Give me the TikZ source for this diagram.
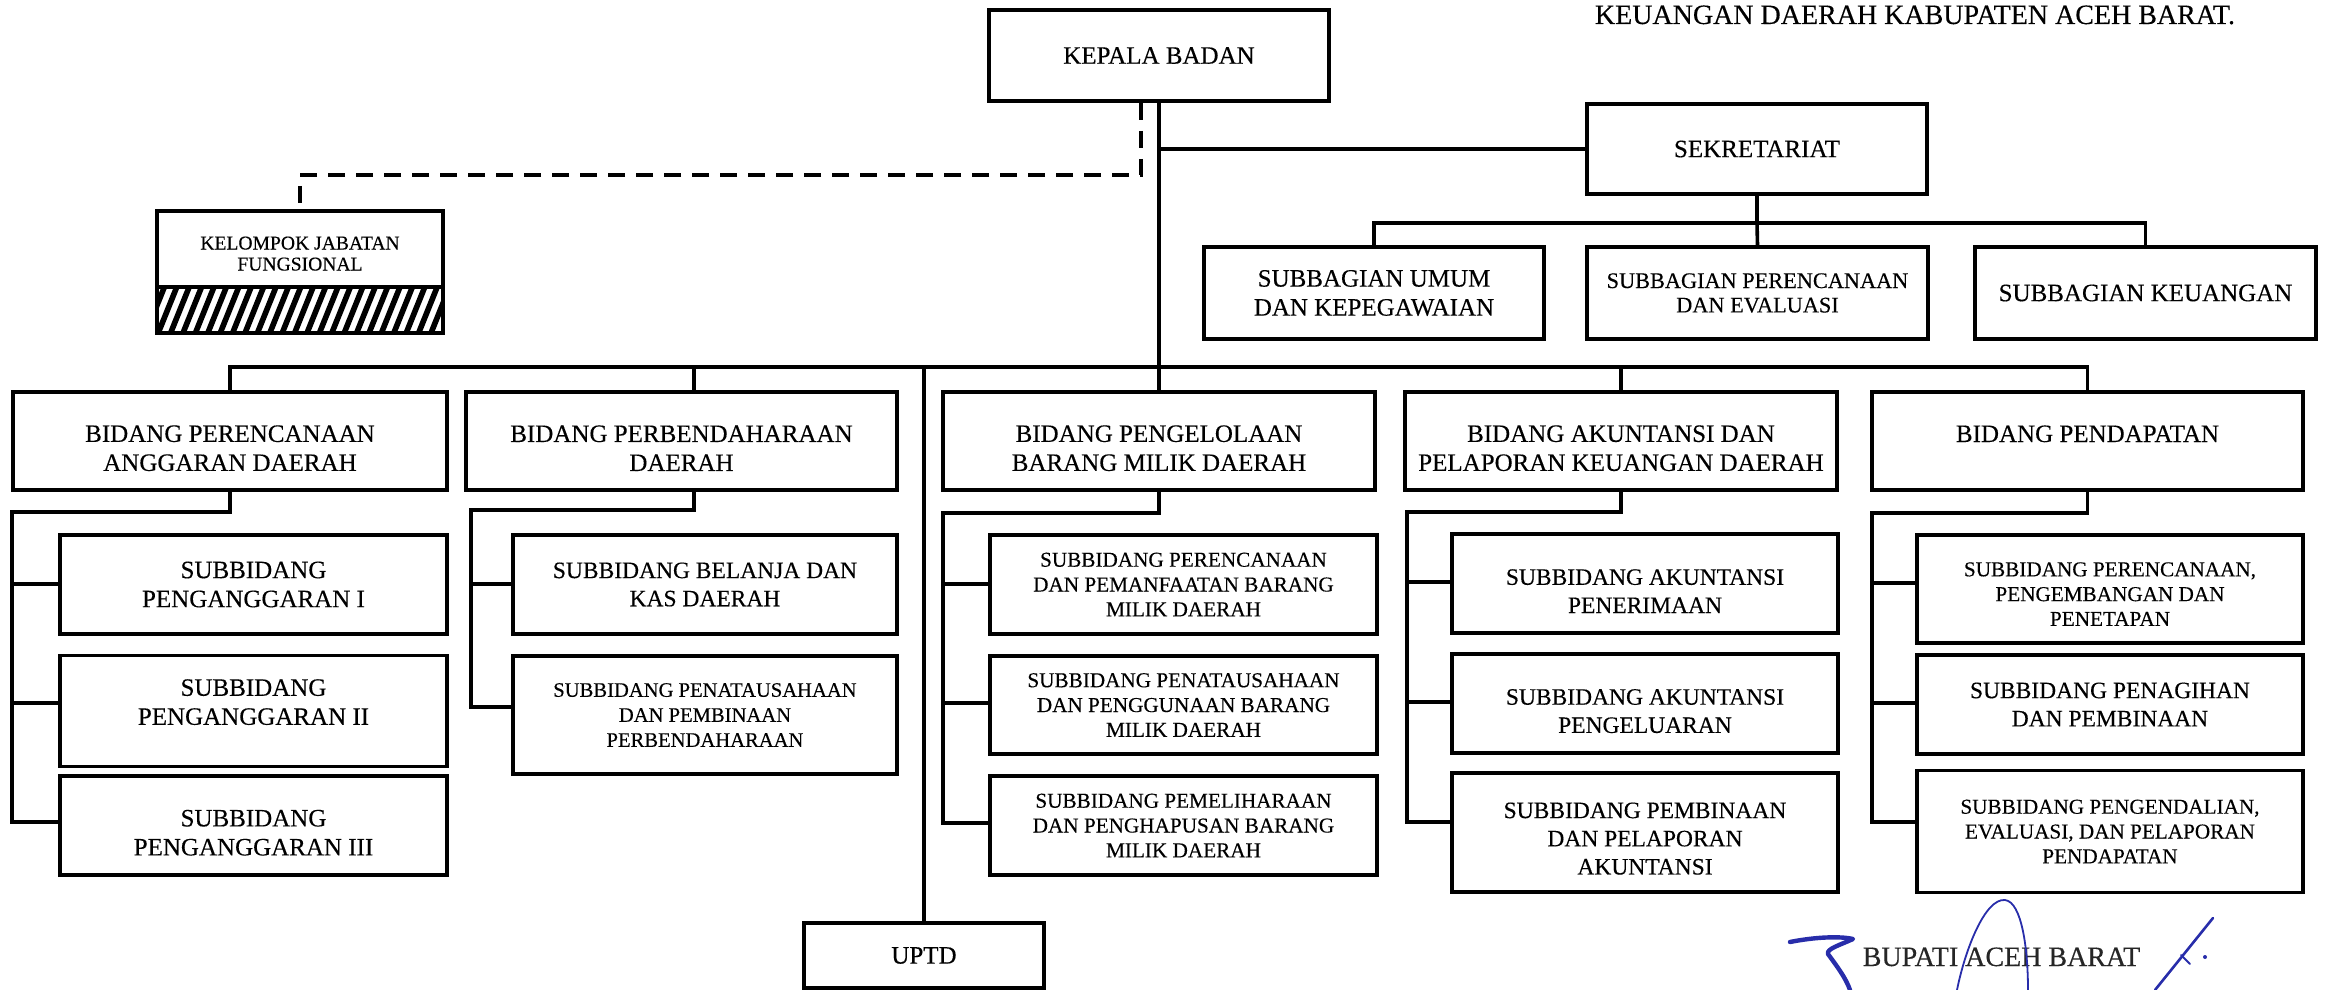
\documentclass[tikz,border=0pt]{standalone}
\usepackage{fontspec}
\setmainfont[FakeBold=0.3]{Liberation Serif}
\usetikzlibrary{calc}
\definecolor{sigblue}{RGB}{40,45,170}
\newcommand{\tpad}[1]{\rule{0pt}{#1}}
\tikzset{
  bx/.style={draw, line width=1.9pt, align=center, inner sep=0pt},
  wh/.style 2 args={minimum width=#1*0.5pt, minimum height=#2*0.5pt},
  conn/.style={line width=1.8pt},
  dsh/.style={line width=1.8pt, dash pattern=on 8.5pt off 5.5pt},
  sig/.style={draw=sigblue, line cap=round, line join=round},
  fA/.style={font=\fontsize{12.5}{14.5}\selectfont},
  fB/.style={font=\fontsize{11.75}{14.1}\selectfont},
  fC/.style={font=\fontsize{11.15}{12.2}\selectfont},
  fD/.style={font=\fontsize{10.6}{12.4}\selectfont},
  fE/.style={font=\fontsize{10.3}{12.5}\selectfont},
  fF/.style={font=\fontsize{9.8}{10.5}\selectfont},
  fT/.style={font=\fontsize{14}{16}\selectfont},
}
\begin{document}
\begin{tikzpicture}[x=0.5pt,y=-0.5pt]
\useasboundingbox (0,0) rectangle (2326,990);

% title line
\node[fT, anchor=base, inner sep=0pt] (title) at (1915,24) {KEUANGAN DAERAH KABUPATEN ACEH BARAT.};

% top level
\node[bx,fA,wh={340}{91}] (kb) at (1159,55.5) {KEPALA BADAN};
\node[bx,fA,wh={340}{90}] (sek) at (1757,149) {SEKRETARIAT};
\node[bx,fA,wh={340}{92}] (sa) at (1374,293) {SUBBAGIAN UMUM\\DAN KEPEGAWAIAN};
\node[bx,fC,wh={341}{92}] (sb) at (1757.5,293) {SUBBAGIAN PERENCANAAN\\DAN EVALUASI};
\node[bx,fA,wh={341}{92}] (sc) at (2145.5,293) {SUBBAGIAN KEUANGAN};

% kelompok jabatan fungsional (hatched lower part)
\begin{scope}
  \clip (157,287) rectangle (443,333);
  \foreach \i in {-3,...,25} \draw[line width=2.8pt] (157+\i*12.4,336) -- ++(21,-52);
\end{scope}
\node[bx,fF,wh={286}{76}] (kjf) at (300,249) {\tpad{11.1pt}KELOMPOK JABATAN\\FUNGSIONAL};
\node[bx,wh={286}{46}] (kjh) at (300,310) {};

% bidang
\node[bx,fA,wh={434}{98}] (b1) at (230,441) {\tpad{15.5pt}BIDANG PERENCANAAN\\ANGGARAN DAERAH};
\node[bx,fA,wh={431}{98}] (b2) at (681.5,441) {\tpad{15.5pt}BIDANG PERBENDAHARAAN\\DAERAH};
\node[bx,fA,wh={432}{98}] (b3) at (1159,441) {\tpad{15.5pt}BIDANG PENGELOLAAN\\BARANG MILIK DAERAH};
\node[bx,fA,wh={432}{98}] (b4) at (1621,441) {\tpad{15.5pt}BIDANG AKUNTANSI DAN\\PELAPORAN KEUANGAN DAERAH};
\node[bx,fA,wh={431}{98}] (b5) at (2087.5,441) {\tpad{15.5pt}BIDANG PENDAPATAN\\\mbox{}};

% column 1
\node[bx,fA,wh={387}{99}] (s11) at (253.5,584.5) {SUBBIDANG\\PENGANGGARAN I};
\node[bx,fA,wh={387}{111}] (s12) at (253.5,711) {SUBBIDANG\\PENGANGGARAN II\rule[-9pt]{0pt}{9pt}};
\node[bx,fA,wh={387}{99}] (s13) at (253.5,825.5) {\tpad{15.5pt}SUBBIDANG\\PENGANGGARAN III};
% column 2
\node[bx,fB,wh={384}{99}] (s21) at (705,584.5) {SUBBIDANG BELANJA DAN\\KAS DAERAH};
\node[bx,fE,wh={384}{118}] (s22) at (705,715) {SUBBIDANG PENATAUSAHAAN\\DAN PEMBINAAN\\PERBENDAHARAAN};
% column 3
\node[bx,fD,wh={387}{99}] (s31) at (1183.5,584.5) {SUBBIDANG PERENCANAAN\\DAN PEMANFAATAN BARANG\\MILIK DAERAH};
\node[bx,fD,wh={387}{98}] (s32) at (1183.5,705) {SUBBIDANG PENATAUSAHAAN\\DAN PENGGUNAAN BARANG\\MILIK DAERAH};
\node[bx,fD,wh={387}{99}] (s33) at (1183.5,825.5) {SUBBIDANG PEMELIHARAAN\\DAN PENGHAPUSAN BARANG\\MILIK DAERAH};
% column 4
\node[bx,fB,wh={386}{99}] (s41) at (1645,583.5) {\tpad{15.4pt}SUBBIDANG AKUNTANSI\\PENERIMAAN};
\node[bx,fB,wh={386}{99}] (s42) at (1645,703.5) {\tpad{15.4pt}SUBBIDANG AKUNTANSI\\PENGELUARAN};
\node[bx,fB,wh={386}{119}] (s43) at (1645,832.5) {\tpad{13.9pt}SUBBIDANG PEMBINAAN\\DAN PELAPORAN\\AKUNTANSI};
% column 5
\node[bx,fD,wh={386}{108}] (s51) at (2110,589) {\tpad{12.1pt}SUBBIDANG PERENCANAAN,\\PENGEMBANGAN DAN\\PENETAPAN};
\node[bx,fB,wh={386}{99}] (s52) at (2110,704.5) {SUBBIDANG PENAGIHAN\\DAN PEMBINAAN};
\node[bx,fD,wh={386}{122}] (s53) at (2110,831.5) {SUBBIDANG PENGENDALIAN,\\EVALUASI, DAN PELAPORAN\\PENDAPATAN};

% UPTD
\node[bx,fA,wh={240}{65}] (uptd) at (924,955.5) {UPTD};

% ---- connectors ----
\draw[conn] (kb.south) -- (b3.north);
\draw[conn] (kb.south |- sek.west) -- (sek.west);
\coordinate (sj) at (1757,223);
\draw[conn] (sek.south) -- (sj);
\draw[conn] (sa.north) |- (sj) -| (sc.north);
\draw[conn] (sj) -- (sb.north);

\coordinate (bar) at (1159,367);
\draw[conn] (b1.north) |- (bar) -| (b5.north);
\coordinate (b2t) at (694,392);
\coordinate (b2b) at (694,490);
\draw[conn] (b2t |- bar) -- (b2t);
\draw[conn] (uptd.north |- bar) -- (uptd.north);
\draw[conn] (b4.north |- bar) -- (b4.north);

% dashed link to kelompok jabatan fungsional
\coordinate (dx) at (1141,175);
\draw[dsh] (kb.south -| dx) -- (dx) -| (kjf.north);

% column 1 bracket
\coordinate (k1) at (12,512);
\coordinate (c11) at (12,584);
\coordinate (c12) at (12,703);
\coordinate (c13) at (12,822);
\draw[conn] (b1.south) |- (k1) -- (c13) -- (c13 -| s13.west);
\draw[conn] (c11) -- (c11 -| s11.west);
\draw[conn] (c12) -- (c12 -| s12.west);
% column 2 bracket
\coordinate (k2) at (471,510);
\coordinate (c21) at (471,584);
\coordinate (c22) at (471,707);
\draw[conn] (b2b) |- (k2) -- (c22) -- (c22 -| s22.west);
\draw[conn] (c21) -- (c21 -| s21.west);
% column 3 bracket
\coordinate (k3) at (943,513);
\coordinate (c31) at (943,584);
\coordinate (c32) at (943,703);
\coordinate (c33) at (943,823);
\draw[conn] (b3.south) |- (k3) -- (c33) -- (c33 -| s33.west);
\draw[conn] (c31) -- (c31 -| s31.west);
\draw[conn] (c32) -- (c32 -| s32.west);
% column 4 bracket
\coordinate (k4) at (1407,512);
\coordinate (c41) at (1407,582);
\coordinate (c42) at (1407,702);
\coordinate (c43) at (1407,822);
\draw[conn] (b4.south) |- (k4) -- (c43) -- (c43 -| s43.west);
\draw[conn] (c41) -- (c41 -| s41.west);
\draw[conn] (c42) -- (c42 -| s42.west);
% column 5 bracket
\coordinate (k5) at (1872,513);
\coordinate (c51) at (1872,583);
\coordinate (c52) at (1872,703);
\coordinate (c53) at (1872,822);
\draw[conn] (b5.south) |- (k5) -- (c53) -- (c53 -| s53.west);
\draw[conn] (c51) -- (c51 -| s51.west);
\draw[conn] (c52) -- (c52 -| s52.west);

% signature block
\node[fT, anchor=base, inner sep=0pt, text=black!85] (bup) at (2001.5,966) {BUPATI ACEH BARAT};
\draw[sig, line width=2.2pt] (1790,942) .. controls (1815,937) and (1840,936) .. (1853,939)
   .. controls (1840,945) and (1826,949) .. (1828,954)
   .. controls (1836,965) and (1846,978) .. (1850,990);
\draw[sig, line width=0.9pt] (1957,990) .. controls (1965,950) and (1985,898) .. (2005,900)
   .. controls (2022,902) and (2028,950) .. (2028,990);
\draw[sig, line width=1.3pt] (2213,918) -- (2155,990);
\draw[sig, line width=1pt] (2181,955) -- (2190,964);
\fill[sigblue] (2205,957) circle (1pt);
\end{tikzpicture}
\end{document}
